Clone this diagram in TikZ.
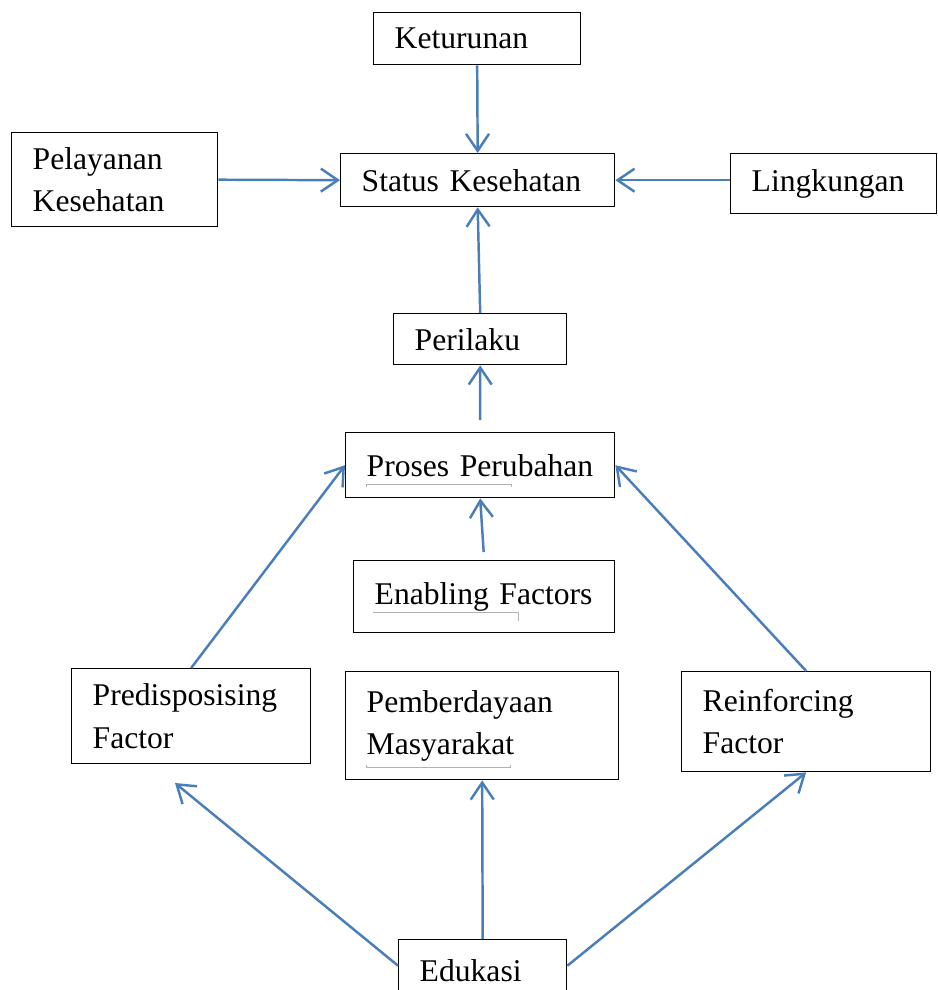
\documentclass[tikz,border=0pt]{standalone}
\usepackage{fontspec}
\setmainfont{Liberation Serif}
\usetikzlibrary{arrows.meta,positioning,calc}
\definecolor{biru}{RGB}{74,126,187}

\begin{document}
\begin{tikzpicture}[
    x=0.02cm, y=-0.02cm,
    kotak/.style={rectangle, draw, line width=0.8pt, anchor=north west, align=left, inner xsep=0.42cm, inner ysep=0pt, font=\fontsize{18}{24.2}\selectfont},
    panah/.style={draw=biru, line width=1.4pt, -{Straight Barb[length=0.34cm, width=0.46cm, line width=1.4pt]}},
    tanda/.style={draw=gray!60, line width=0.4pt}
]
    \useasboundingbox (0,0) rectangle (937,990);
    \clip (0,0) rectangle (937,990);

    \node[kotak, text width=3.3cm, minimum height=1.04cm] (keturunan) at (373,12) {Keturunan};
    \node[kotak, text width=4.64cm, minimum height=1.06cm] (status) at (340,153) {Status Kesehatan};
    \node[kotak, text width=3.28cm, minimum height=1.88cm] (pelayanan) at (11,132) {Pelayanan\\Kesehatan};
    \node[kotak, text width=3.28cm, minimum height=1.2cm] (lingkungan) at (730,153) {Lingkungan};
    \node[kotak, text width=2.62cm, minimum height=1.02cm] (perilaku) at (393,313) {Perilaku};
    \node[kotak, text width=4.54cm, minimum height=1.3cm] (proses) at (345,432) {Proses Perubahan};
    \node[kotak, text width=4.38cm, minimum height=1.44cm] (enabling) at (353,560) {Enabling Factors};
    \node[kotak, text width=3.94cm, minimum height=1.9cm] (predis) at (71,668) {Predisposising\\Factor};
    \node[kotak, text width=4.62cm, minimum height=2.16cm] (pemberdayaan) at (345,671) {Pemberdayaan\\Masyarakat};
    \node[kotak, text width=4.14cm, minimum height=2.0cm] (reinforcing) at (681,671) {Reinforcing\\Factor};
    \node[kotak, text width=2.52cm, minimum height=1.24cm] (edukasi) at (398,939) {Edukasi};
    \coordinate (predisB) at (175,783);

    % tanda kecil di bawah teks
    \draw[tanda] (366,487) -- (366,484) -- (511,484) -- (511,487);
    \draw[tanda] (373,612) -- (518,612) -- (518,621);
    \draw[tanda] (366,765) -- (366,767) -- (510,767) -- (510,765);

    % panah
    \draw[panah] (keturunan.south) -- (status.north);
    \draw[panah] (pelayanan.east) -- (status.west);
    \draw[panah] (lingkungan.west |- status.east) -- (status.east);
    \draw[panah] (perilaku.north) -- (status.south);
    \draw[panah, shorten <=0.24cm] (proses.north) -- (perilaku.south);
    \draw[panah, shorten <=0.16cm] (enabling.north) -- (proses.south);
    \draw[panah] (predis.north) -- (proses.west);
    \draw[panah] (reinforcing.north) -- (proses.east);
    \draw[panah] ([yshift=0.1cm]edukasi.west) -- (predisB);
    \draw[panah] (edukasi.north) -- (pemberdayaan.south);
    \draw[panah] ([yshift=0.1cm]edukasi.east) -- (reinforcing.south);
\end{tikzpicture}
\end{document}
